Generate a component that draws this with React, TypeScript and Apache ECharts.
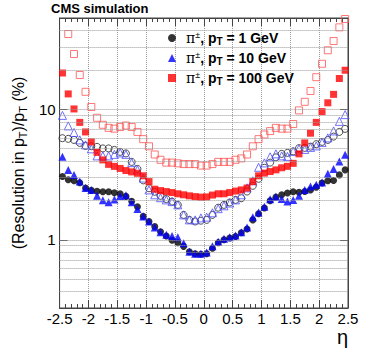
import React, { useEffect, useRef } from 'react';
import * as echarts from 'echarts';

const etaBins = [
  -2.45, -2.35, -2.25, -2.15, -2.05, -1.95, -1.85, -1.75, -1.65, -1.55,
  -1.45, -1.35, -1.25, -1.15, -1.05, -0.95, -0.85, -0.75, -0.65, -0.55,
  -0.45, -0.35, -0.25, -0.15, -0.05, 0.05, 0.15, 0.25, 0.35, 0.45,
  0.55, 0.65, 0.75, 0.85, 0.95, 1.05, 1.15, 1.25, 1.35, 1.45,
  1.55, 1.65, 1.75, 1.85, 1.95, 2.05, 2.15, 2.25, 2.35, 2.45,
];

// 1 GeV (black)
const res1GeVFilled = [
  3.05, 2.88, 2.83, 2.73, 2.49, 2.39, 2.35, 2.33, 2.33, 2.29,
  2.25, 2.15, 1.97, 1.79, 1.51, 1.38, 1.26, 1.15, 1.07, 0.99,
  0.95, 0.89, 0.81, 0.78, 0.775,
  0.78, 0.86, 0.95, 1.0, 1.03, 1.06, 1.13, 1.21, 1.42, 1.58,
  1.75, 1.99, 2.12, 2.21, 2.28, 2.33, 2.31, 2.34, 2.41, 2.53,
  2.72, 2.83, 2.84, 3.14, 3.43,
];
const res1GeVOpen = [
  6.0, 5.93, 5.82, 5.52, 5.24, 5.21, 5.15, 5.01, 5.01, 4.88,
  4.71, 4.59, 3.95, 3.49, 2.85, 2.48, 2.33, 2.17, 2.05, 1.96,
  1.85, 1.55, 1.42, 1.38, 1.4,
  1.42, 1.55, 1.76, 1.85, 1.93, 2.02, 2.08, 2.34, 2.59, 2.93,
  3.56, 3.9, 4.28, 4.55, 4.63, 4.75, 5.03, 5.06, 5.17, 5.4,
  5.62, 5.82, 6.17, 6.7, 7.07,
];
// 10 GeV (blue)
const res10GeVFilled = [
  4.32, 3.43, 3.14, 2.79, 2.49, 2.41, 2.17, 2.01, 1.94, 2.03,
  2.16, 2.19, 1.94, 1.72, 1.51, 1.38, 1.24, 1.14, 1.09, 1.07,
  1.045, 0.94, 0.81, 0.78, 0.78,
  0.8, 0.89, 0.965, 1.02, 1.045, 1.08, 1.14, 1.24, 1.49, 1.62,
  1.79, 2.04, 2.14, 2.05, 1.96, 2.02, 2.17, 2.41, 2.56, 2.64,
  2.74, 3.2, 3.48, 3.97, 4.47,
];
const res10GeVOpen = [
  8.97, 7.45, 6.64, 5.82, 5.33, 4.97, 4.39, 4.39, 4.39, 4.51,
  4.63, 4.51, 3.9, 3.43, 2.97, 2.41, 2.21, 2.1, 2.02, 1.96,
  1.85, 1.55, 1.42, 1.42, 1.47,
  1.49, 1.61, 1.73, 1.82, 1.91, 2.02, 2.21, 2.5, 2.83, 3.59,
  3.88, 4.32, 4.55, 4.39, 4.35, 4.75, 4.97, 4.92, 5.1, 5.24,
  5.57, 6.03, 6.82, 8.07, 9.09,
];
// 100 GeV (red)
const res100GeVFilled = [
  18.95, 13.1, 10.05, 7.93, 6.7, 5.62, 4.67, 4.09, 3.78, 3.65,
  3.52, 3.39, 3.31, 3.23, 3.09, 2.79, 2.44, 2.38, 2.34, 2.3,
  2.25, 2.21, 2.17, 2.14, 2.12,
  2.13, 2.2, 2.25, 2.25, 2.3, 2.36, 2.41, 2.49, 2.79, 3.09,
  3.24, 3.33, 3.43, 3.56, 3.65, 3.85, 4.55, 5.52, 6.55, 7.93,
  9.59, 11.2, 13.0, 17.2, 19.9,
];
const res100GeVOpen = [
  null, 37.7, 26.5, 18.3, 13.6, 10.4, 8.6, 7.6, 7.2, 7.1,
  7.3, 7.5, 7.3, 6.7, 5.9, 5.2, 4.5, 4.1, 3.9, 3.9,
  3.85, 3.8, 3.8, 3.8, 3.7,
  3.7, 3.8, 3.95, 3.95, 3.95, 4.1, 4.2, 4.5, 5.2, 5.9,
  6.4, 6.8, 7.2, 7.1, 7.1, 7.7, 9.8, 11.4, 13.8, 17.6,
  22.3, 28.3, 33.3, 42.4, 49.1,
];

const yGridValues = [0.4, 0.5, 0.6, 0.7, 0.8, 0.9, 1, 2, 3, 4, 5, 6, 7, 8, 9, 10, 20, 30, 40];
const legendNames = ['1 GeV', '10 GeV', '100 GeV'];

const FONT = 'Liberation Sans, Arial, sans-serif';

function pts(vals: (number | null)[]) {
  const out: [number, number][] = [];
  vals.forEach((v, i) => {
    if (v !== null) out.push([etaBins[i], v]);
  });
  return out;
}

export default function App() {
  const ref = useRef<HTMLDivElement>(null);
  useEffect(() => {
    if (!ref.current) return;
    const chart = echarts.init(ref.current, undefined, { renderer: 'svg' });
    const openStyle = (c: string) => ({ color: 'rgba(0,0,0,0)', borderColor: c, borderWidth: 1 });
    const isDecade = (v: number) => Math.abs(Math.log10(v) - Math.round(Math.log10(v))) < 1e-6;
    const axisLineStyle = { show: true, onZero: false, lineStyle: { color: '#444' } };
    const option: any = {
      animation: false,
      backgroundColor: '#fff',
      grid: { left: 48, top: 18, right: 26, bottom: 47, show: true, borderColor: '#444', borderWidth: 1 },
      xAxis: [
        {
          type: 'value', min: -2.5, max: 2.5, interval: 0.5,
          axisLine: axisLineStyle,
          axisTick: { show: true, inside: true, length: 8, lineStyle: { color: '#444' } },
          minorTick: { show: true, splitNumber: 5, length: 4, lineStyle: { color: '#444' } },
          axisLabel: { color: '#000', fontFamily: FONT, fontSize: 15, margin: 3 },
          splitLine: { show: true, lineStyle: { type: 'dotted', color: '#999', width: 1 } },
        },
        {
          type: 'value', min: -2.5, max: 2.5, interval: 0.5, position: 'top',
          axisLine: axisLineStyle,
          axisTick: { show: true, inside: true, length: 8, lineStyle: { color: '#444' } },
          minorTick: { show: true, splitNumber: 5, length: 4, lineStyle: { color: '#444' } },
          axisLabel: { show: false },
          splitLine: { show: false },
        },
      ],
      yAxis: [
        {
          type: 'log', logBase: 10, min: 0.3, max: 50,
          axisLine: axisLineStyle,
          axisTick: { show: true, inside: true, length: 8, lineStyle: { color: '#444' } },
          axisLabel: {
            color: '#000', fontFamily: FONT, fontSize: 15, margin: 4,
            formatter: (v: number) => (isDecade(v) ? String(Math.round(v)) : ''),
          },
          splitLine: { show: false },
          name: '(Resolution in p{sub|T})/p{sub|T} (%)',
          nameLocation: 'middle',
          nameRotate: 90,
          nameGap: 26,
          nameTextStyle: {
            color: '#000', fontFamily: FONT, fontSize: 16, lineHeight: 20,
            rich: { sub: { fontFamily: FONT, fontSize: 11, lineHeight: 20, verticalAlign: 'bottom', color: '#000', padding: [8, 0, 0, 0] } },
          },
        },
        {
          type: 'log', logBase: 10, min: 0.3, max: 50, position: 'right',
          axisLine: axisLineStyle,
          axisTick: { show: true, inside: true, length: 8, lineStyle: { color: '#444' } },
          axisLabel: { show: false },
          splitLine: { show: false },
        },
      ],
      legend: {
        data: legendNames,
        orient: 'vertical',
        left: 163,
        top: 24,
        itemGap: 2,
        itemWidth: 8,
        itemHeight: 8,
        selectedMode: false,
        formatter: (name: string) => `{pi|π}{sup|±}{b|, p}{sub|T}{b| = ${name}}`,
        textStyle: {
          fontFamily: FONT, fontSize: 14, fontWeight: 'bold', color: '#000',
          rich: {
            pi: { fontFamily: 'DejaVu Serif', fontSize: 14, fontWeight: 'normal', color: '#000', lineHeight: 16, padding: [0, 0, 0, 5] },
            sup: { fontFamily: FONT, fontSize: 9, fontWeight: 'normal', color: '#000', verticalAlign: 'top', lineHeight: 16, padding: [0, 0, 8, 0] },
            b: { fontFamily: FONT, fontSize: 14, fontWeight: 'bold', color: '#000', lineHeight: 16 },
            sub: { fontFamily: FONT, fontSize: 10, fontWeight: 'bold', color: '#000', verticalAlign: 'bottom', lineHeight: 16, padding: [7, 0, 0, 0] },
          },
        },
      },
      graphic: [
        { type: 'text', left: 51, top: 2, style: { text: 'CMS simulation', fontFamily: FONT, fontSize: 13, fontWeight: 'bold', fill: '#000' } },
        { type: 'text', left: 337, top: 327, style: { text: 'η', fontFamily: FONT, fontSize: 20, fill: '#000' } },
      ],
      series: [
        {
          type: 'scatter', name: 'grid', data: [], silent: true, z: 1,
          markLine: {
            silent: true, symbol: 'none', animation: false,
            label: { show: false },
            lineStyle: { type: 'dotted', color: '#999', width: 1 },
            data: yGridValues.map((v) => ({ yAxis: v })),
          },
        },
        { type: 'scatter', name: 'open1', data: pts(res1GeVOpen), symbol: 'circle', symbolSize: 7, itemStyle: openStyle('#222'), z: 3 },
        { type: 'scatter', name: 'open10', data: pts(res10GeVOpen), symbol: 'triangle', symbolSize: 8, itemStyle: openStyle('#4d4dff'), z: 3 },
        { type: 'scatter', name: 'open100', data: pts(res100GeVOpen), symbol: 'rect', symbolSize: 7, itemStyle: openStyle('#ff5555'), z: 3 },
        { type: 'scatter', name: '1 GeV', data: pts(res1GeVFilled), symbol: 'circle', symbolSize: 7, itemStyle: { color: '#000' }, z: 4 },
        { type: 'scatter', name: '10 GeV', data: pts(res10GeVFilled), symbol: 'triangle', symbolSize: 8, itemStyle: { color: '#0000ff' }, z: 4 },
        { type: 'scatter', name: '100 GeV', data: pts(res100GeVFilled), symbol: 'rect', symbolSize: 7, itemStyle: { color: '#ff0000' }, z: 4 },
      ],
    };
    chart.setOption(option);
    return () => chart.dispose();
  }, []);
  return <div ref={ref} style={{ position: 'fixed', left: 0, top: 0, width: 374, height: 355 }} />;
}
